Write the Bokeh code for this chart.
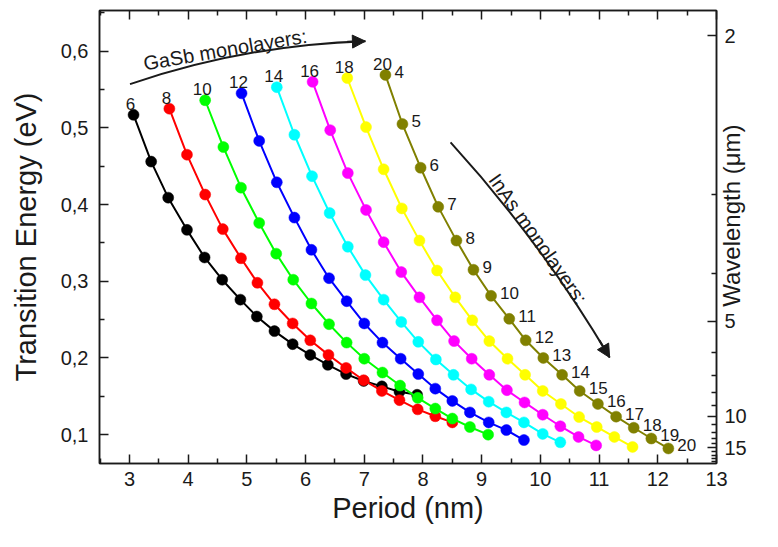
import math
from bokeh.plotting import figure
from bokeh.models import (Range1d, LinearAxis, FixedTicker, CustomJSTickFormatter,
                          Arrow, NormalHead, Label)
from bokeh.embed import file_html
from bokeh.resources import INLINE
from bokeh.core.properties import value

# ---------------- data ----------------
gasb_labels = ["6", "8", "10", "12", "14", "16", "18", "20"]
inas_labels = ["4", "5", "6", "7", "8", "9", "10", "11", "12", "13", "14",
               "15", "16", "17", "18", "19", "20"]
colors = ["#000000", "#ff0000", "#00ff00", "#0000ff", "#00ffff",
          "#ff00ff", "#ffff00", "#808000"]

period_6 = [3.07, 3.37, 3.66, 3.98, 4.28, 4.58, 4.89, 5.17, 5.47, 5.78, 6.08, 6.38, 6.69, 6.99, 7.30, 7.60, 7.90]
energy_6 = [0.517, 0.456, 0.409, 0.367, 0.331, 0.302, 0.276, 0.254, 0.235, 0.218, 0.204, 0.191, 0.179, 0.170, 0.163, 0.156, 0.152]

period_8 = [3.68, 3.98, 4.29, 4.59, 4.90, 5.18, 5.47, 5.78, 6.08, 6.39, 6.69, 6.99, 7.30, 7.60, 7.91, 8.21, 8.50]
energy_8 = [0.525, 0.465, 0.413, 0.368, 0.330, 0.298, 0.270, 0.245, 0.223, 0.204, 0.187, 0.171, 0.157, 0.145, 0.133, 0.124, 0.116]

period_10 = [4.29, 4.60, 4.90, 5.21, 5.50, 5.79, 6.10, 6.40, 6.70, 7.00, 7.31, 7.61, 7.91, 8.21, 8.50, 8.80, 9.11]
energy_10 = [0.536, 0.475, 0.422, 0.376, 0.336, 0.302, 0.271, 0.244, 0.220, 0.199, 0.181, 0.164, 0.148, 0.134, 0.121, 0.110, 0.100]

period_12 = [4.91, 5.21, 5.51, 5.81, 6.10, 6.40, 6.70, 7.00, 7.31, 7.62, 7.92, 8.21, 8.50, 8.80, 9.12, 9.42, 9.72]
energy_12 = [0.545, 0.483, 0.429, 0.383, 0.341, 0.304, 0.274, 0.245, 0.220, 0.199, 0.179, 0.160, 0.144, 0.129, 0.116, 0.106, 0.093]

period_14 = [5.51, 5.81, 6.11, 6.41, 6.72, 7.02, 7.33, 7.63, 7.92, 8.22, 8.52, 8.82, 9.12, 9.42, 9.72, 10.04, 10.34]
energy_14 = [0.553, 0.491, 0.437, 0.389, 0.345, 0.308, 0.276, 0.247, 0.221, 0.198, 0.178, 0.159, 0.143, 0.129, 0.116, 0.101, 0.090]

period_16 = [6.12, 6.42, 6.72, 7.03, 7.33, 7.63, 7.94, 8.24, 8.53, 8.83, 9.13, 9.43, 9.73, 10.04, 10.34, 10.65, 10.95]
energy_16 = [0.560, 0.497, 0.441, 0.393, 0.351, 0.312, 0.279, 0.249, 0.222, 0.199, 0.178, 0.158, 0.142, 0.126, 0.111, 0.097, 0.086]

period_18 = [6.71, 7.03, 7.33, 7.64, 7.94, 8.24, 8.55, 8.84, 9.13, 9.44, 9.74, 10.04, 10.35, 10.66, 10.96, 11.26, 11.57]
energy_18 = [0.565, 0.501, 0.446, 0.395, 0.353, 0.314, 0.279, 0.249, 0.222, 0.199, 0.178, 0.157, 0.140, 0.123, 0.110, 0.097, 0.084]

period_20 = [7.36, 7.65, 7.96, 8.26, 8.57, 8.86, 9.16, 9.47, 9.75, 10.05, 10.37, 10.67, 10.98, 11.29, 11.59, 11.89, 12.18]
energy_20 = [0.569, 0.505, 0.448, 0.397, 0.353, 0.315, 0.281, 0.251, 0.223, 0.200, 0.178, 0.157, 0.140, 0.1235, 0.109, 0.095, 0.082]

periods = [period_6, period_8, period_10, period_12, period_14, period_16, period_18, period_20]
energies = [energy_6, energy_8, energy_10, energy_12, energy_14, energy_16, energy_18, energy_20]

x_ticks = [3, 4, 5, 6, 7, 8, 9, 10, 11, 12, 13]
x_minor = [2.5, 3.5, 4.5, 5.5, 6.5, 7.5, 8.5, 9.5, 10.5, 11.5, 12.5]
y_ticks = [0.1, 0.2, 0.3, 0.4, 0.5, 0.6]
y_minor = [0.05, 0.15, 0.25, 0.35, 0.45, 0.55, 0.65]
wl_major = [2, 5, 10, 15]
wl_minor = [3, 4, 6, 7, 8, 9, 11, 12, 13, 14, 16, 17, 18, 19]
HC = 1.24  # eV*um

FONT = "Liberation Sans"
INK = "#1a1a1a"

p = figure(width=762, height=531, output_backend="svg", toolbar_location=None,
           x_range=Range1d(2.49, 13.0), y_range=Range1d(0.0624, 0.653),
           min_border_left=99, min_border_right=46, min_border_top=10,
           min_border_bottom=68)
p.grid.visible = False
p.outline_line_color = INK
p.outline_line_width = 1.5
p.background_fill_color = "white"
p.border_fill_color = "white"


def style(ax):
    ax.axis_line_color = INK
    ax.axis_line_width = 1.5
    ax.major_tick_in = 9
    ax.major_tick_out = 0
    ax.minor_tick_in = 5
    ax.minor_tick_out = 0
    ax.major_tick_line_color = INK
    ax.minor_tick_line_color = INK
    ax.major_tick_line_width = 1.5
    ax.minor_tick_line_width = 1.5
    ax.major_label_text_font = FONT
    ax.major_label_text_font_size = "20px"
    ax.major_label_text_color = INK
    ax.axis_label_text_font = FONT
    ax.axis_label_text_font_size = "29px"
    ax.axis_label_text_font_style = "normal"
    ax.axis_label_text_color = INK


xa = p.xaxis[0]
style(xa)
xa.ticker = FixedTicker(ticks=x_ticks, minor_ticks=x_minor)
xa.axis_label = "Period (nm)"
xa.major_label_standoff = 8
xa.axis_label_standoff = 3

ya = p.yaxis[0]
style(ya)
ya.ticker = FixedTicker(ticks=y_ticks, minor_ticks=y_minor)
ya.formatter = CustomJSTickFormatter(code="return tick.toFixed(1).replace('.', ',');")
ya.axis_label = "Transition Energy (eV)"
ya.major_label_standoff = 11
ya.axis_label_standoff = 16

top = LinearAxis(ticker=FixedTicker(ticks=x_ticks, minor_ticks=x_minor))
style(top)
top.formatter = CustomJSTickFormatter(code="return '';")
top.major_label_standoff = 0
p.add_layout(top, "above")

right = LinearAxis(ticker=FixedTicker(ticks=[HC / w for w in wl_major],
                                      minor_ticks=[HC / w for w in wl_minor]))
style(right)
right.formatter = CustomJSTickFormatter(code="return (1.24 / tick).toFixed(0);")
right.major_label_standoff = 8
p.add_layout(right, "right")

# right-hand title: an outer axis without line or ticks whose single rotated
# tick label carries the text (reads bottom-to-top like the reference)
title_axis = LinearAxis(ticker=FixedTicker(ticks=[0.2667], minor_ticks=[]))
title_axis.formatter = CustomJSTickFormatter(code="return 'Wavelength (μm)';")
title_axis.major_label_orientation = math.pi / 2
title_axis.major_label_text_font = FONT
title_axis.major_label_text_font_size = "24px"
title_axis.major_label_text_color = INK
title_axis.major_label_standoff = -18
title_axis.major_tick_in = 0
title_axis.major_tick_out = 0
title_axis.minor_tick_in = 0
title_axis.minor_tick_out = 0
title_axis.axis_line_color = None
title_axis.major_tick_line_color = None
title_axis.minor_tick_line_color = None
p.add_layout(title_axis, "right")

# ---------------- series ----------------
for xs, ys, c in zip(periods, energies, colors):
    p.line(xs, ys, line_color=c, line_width=2)
    p.scatter(xs, ys, size=11, fill_color=c, line_color=c, line_width=0.5)

# GaSb labels above first point of each series
p.text(x=[xs[0] for xs in periods], y=[ys[0] for ys in energies], text=gasb_labels,
       text_font=value(FONT), text_font_size="17px", text_color=INK,
       text_align="center", text_baseline="alphabetic", x_offset=-3, y_offset=-11)

# InAs labels beside the GaSb-20 series
p.text(x=period_20, y=energy_20, text=inas_labels,
       text_font=value(FONT), text_font_size="17px", text_color=INK,
       text_align="left", text_baseline="alphabetic", x_offset=9, y_offset=-3)

# ---------------- annotations ----------------
# GaSb arrow
a1 = dict(x0=3.01, y0=0.557, cx=4.96, cy=0.608, x1=7.02, y1=0.613)
p.quadratic(x0=[a1["x0"]], y0=[a1["y0"]], x1=[a1["x1"]], y1=[a1["y1"]],
            cx=[a1["cx"]], cy=[a1["cy"]], line_color=INK, line_width=2)
p.add_layout(Arrow(end=NormalHead(size=13, fill_color=INK, line_color=INK),
                   x_start=a1["x1"] - 0.15 * (a1["x1"] - a1["cx"]),
                   y_start=a1["y1"] - 0.15 * (a1["y1"] - a1["cy"]),
                   x_end=a1["x1"], y_end=a1["y1"], line_color=INK, line_width=2))
p.add_layout(Label(x=4.63, y=0.602, text="GaSb monolayers:", angle=0.17,
                   text_font=FONT, text_font_size="20px", text_color=INK,
                   text_align="center", text_baseline="middle"))

# InAs arrow
a2 = dict(x0=8.47, y0=0.481, cx=10.01, cy=0.352, x1=11.18, y1=0.2005)
p.quadratic(x0=[a2["x0"]], y0=[a2["y0"]], x1=[a2["x1"]], y1=[a2["y1"]],
            cx=[a2["cx"]], cy=[a2["cy"]], line_color=INK, line_width=2)
p.add_layout(Arrow(end=NormalHead(size=13, fill_color=INK, line_color=INK),
                   x_start=a2["x1"] - 0.15 * (a2["x1"] - a2["cx"]),
                   y_start=a2["y1"] - 0.15 * (a2["y1"] - a2["cy"]),
                   x_end=a2["x1"], y_end=a2["y1"], line_color=INK, line_width=2))
p.add_layout(Label(x=9.96, y=0.355, text="InAs monolayers:", angle=-0.955,
                   text_font=FONT, text_font_size="20px", text_color=INK,
                   text_align="center", text_baseline="middle"))

open("out.html", "w").write(file_html(p, INLINE))
